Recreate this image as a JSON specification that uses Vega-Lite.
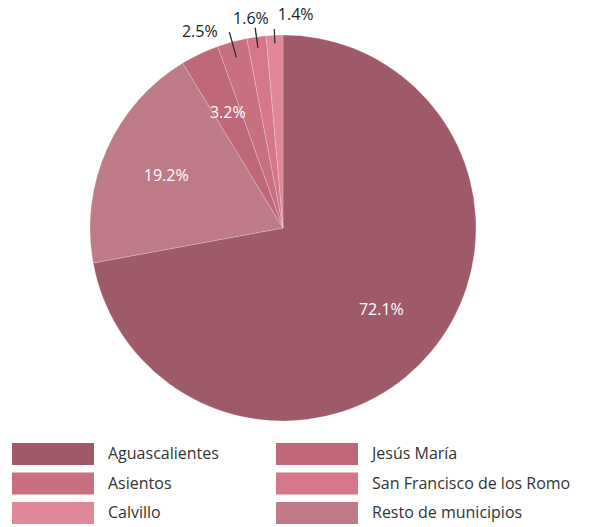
{
  "$schema": "https://vega.github.io/schema/vega-lite/v6.json",
  "width": 566,
  "height": 456,
  "padding": {"left": 0, "top": 0, "right": 45, "bottom": 71},
  "autosize": {"type": "none"},
  "background": "white",
  "config": {"view": {"stroke": null}, "font": "Open Sans"},
  "data": {
    "values": [
      {"municipio": "Aguascalientes", "valor": 0.721},
      {"municipio": "Resto de municipios", "valor": 0.192},
      {"municipio": "Jesús María", "valor": 0.032},
      {"municipio": "Asientos", "valor": 0.025},
      {"municipio": "San Francisco de los Romo", "valor": 0.016},
      {"municipio": "Calvillo", "valor": 0.014}
    ]
  },
  "encoding": {
    "theta": {"field": "valor", "type": "quantitative", "stack": true},
    "order": {"field": "valor", "type": "quantitative", "sort": "descending"}
  },
  "layer": [
    {
      "mark": {"type": "arc", "outerRadius": 193, "stroke": "#ffffff", "strokeWidth": 0.4, "strokeOpacity": 0.5},
      "encoding": {
        "color": {
          "field": "municipio",
          "type": "nominal",
          "scale": {
            "domain": ["Aguascalientes", "Jesús María", "Asientos", "San Francisco de los Romo", "Calvillo", "Resto de municipios"],
            "range": ["#9e5a69", "#be6879", "#c87080", "#d6768b", "#e08898", "#be7a86"]
          },
          "legend": {
            "title": null,
            "orient": "none",
            "legendX": 42,
            "legendY": 443,
            "columns": 2,
            "direction": "horizontal",
            "symbolType": "M-3.728,-1H3.728V1H-3.728Z",
            "symbolSize": 484,
            "symbolStrokeWidth": 0,
            "symbolOpacity": 1,
            "labelFont": "Open Sans",
            "labelFontSize": 16,
            "labelColor": "#333333",
            "labelOffset": 44,
            "labelLimit": 300,
            "rowPadding": 7.5,
            "columnPadding": 56
          }
        }
      }
    },
    {
      "mark": {"type": "text", "radius": 128, "fontSize": 16, "font": "Open Sans", "color": "#ffffff"},
      "encoding": {
        "text": {"condition": {"test": "datum.valor >= 0.03", "field": "valor", "type": "quantitative", "format": ".1%"}, "value": ""}
      }
    },
    {
      "mark": {"type": "text", "radius": 213, "dx": -27, "dy": 9, "fontSize": 16, "font": "Open Sans", "color": "#222222"},
      "encoding": {
        "text": {"condition": {"test": "datum.municipio === 'Asientos'", "field": "valor", "type": "quantitative", "format": ".1%"}, "value": ""}
      }
    },
    {
      "mark": {"type": "text", "radius": 211, "dx": -3, "dy": 0, "fontSize": 16, "font": "Open Sans", "color": "#222222"},
      "encoding": {
        "text": {"condition": {"test": "datum.municipio === 'San Francisco de los Romo'", "field": "valor", "type": "quantitative", "format": ".1%"}, "value": ""}
      }
    },
    {
      "mark": {"type": "text", "radius": 212, "dx": 22, "dy": -1, "fontSize": 16, "font": "Open Sans", "color": "#222222"},
      "encoding": {
        "text": {"condition": {"test": "datum.municipio === 'Calvillo'", "field": "valor", "type": "quantitative", "format": ".1%"}, "value": ""}
      }
    },
    {
      "mark": {"type": "arc", "outerRadius": 203, "innerRadius": 177, "strokeWidth": 0.8, "padAngle": 0.1168},
      "encoding": {
        "stroke": {"condition": {"test": "datum.municipio === 'Asientos'", "value": "#222222"}, "value": "transparent"},
        "fill": {"condition": {"test": "datum.municipio === 'Asientos'", "value": "#222222"}, "value": "transparent"}
      }
    },
    {
      "mark": {"type": "arc", "outerRadius": 202, "innerRadius": 182, "strokeWidth": 0.8, "padAngle": 0.0732},
      "encoding": {
        "stroke": {"condition": {"test": "datum.municipio === 'San Francisco de los Romo'", "value": "#222222"}, "value": "transparent"},
        "fill": {"condition": {"test": "datum.municipio === 'San Francisco de los Romo'", "value": "#222222"}, "value": "transparent"}
      }
    },
    {
      "mark": {"type": "arc", "outerRadius": 199, "innerRadius": 185, "strokeWidth": 0.8, "padAngle": 0.063},
      "encoding": {
        "stroke": {"condition": {"test": "datum.municipio === 'Calvillo'", "value": "#222222"}, "value": "transparent"},
        "fill": {"condition": {"test": "datum.municipio === 'Calvillo'", "value": "#222222"}, "value": "transparent"}
      }
    }
  ]
}
